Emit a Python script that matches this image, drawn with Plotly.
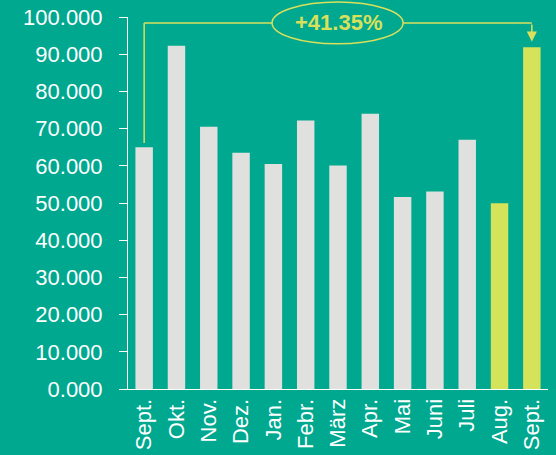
import plotly.graph_objects as go

months = ["Sept.", "Okt.", "Nov.", "Dez.", "Jan.", "Febr.", "März", "Apr.", "Mai", "Juni", "Juli", "Aug.", "Sept."]
values = [65000, 92300, 70500, 63500, 60500, 72200, 60100, 74000, 51600, 53100, 67000, 49900, 91880]
highlight = [False] * 11 + [True, True]
y_ticks = [0, 10000, 20000, 30000, 40000, 50000, 60000, 70000, 80000, 90000, 100000]
y_tick_labels = ["0.000", "10.000", "20.000", "30.000", "40.000", "50.000", "60.000",
                 "70.000", "80.000", "90.000", "100.000"]
change_label = "+41.35%"

BG = "#00A88F"
GRAY = "#E0E1DF"
YEL = "#D5E35A"
LINE_Y = "#D9E05C"
FONT = "Arial, Liberation Sans, sans-serif"

xs = list(range(len(months)))
colors = [YEL if h else GRAY for h in highlight]

fig = go.Figure()
fig.add_trace(go.Bar(x=xs, y=values, marker=dict(color=colors, line=dict(width=0)),
                     showlegend=False, hoverinfo="skip"))

top_y = 98400
first, last = 0, len(months) - 1
# left vertical connector
fig.add_shape(type="line", xref="x", yref="y", x0=first, x1=first,
              y0=values[first] + 1100, y1=top_y, line=dict(color=LINE_Y, width=1.5))
# horizontal connector
fig.add_shape(type="line", xref="x", yref="y", x0=first, x1=last,
              y0=top_y, y1=top_y, line=dict(color=LINE_Y, width=1.5))
# ellipse
fig.add_shape(type="circle", xref="paper", yref="paper", x0=0.343, x1=0.655,
              y0=0.928, y1=1.040, fillcolor=BG, line=dict(color=LINE_Y, width=1.5),
              layer="above")
fig.add_annotation(x=(first + last) / 2, y=0.984, xref="x", yref="paper",
                   xanchor="center", yanchor="middle",
                   text="<b>" + change_label + "</b>", showarrow=False,
                   font=dict(family=FONT, size=22, color=LINE_Y))
# right arrow
fig.add_annotation(x=last, y=values[last] + 1500, xref="x", yref="y",
                   ax=last, ay=top_y, axref="x", ayref="y", text="",
                   showarrow=True, arrowhead=2, arrowsize=1.35, arrowwidth=1.5,
                   arrowcolor=LINE_Y)

fig.update_layout(
    width=556, height=455,
    margin=dict(l=128, r=8, t=17, b=66, autoexpand=False),
    paper_bgcolor=BG, plot_bgcolor=BG,
    bargap=0.46,
    font=dict(family=FONT, size=22, color="white"),
)
fig.update_xaxes(range=[-0.5, len(months) - 0.5], tickvals=xs, ticktext=months,
                 tickangle=-90, showgrid=False, zeroline=False, automargin=False,
                 showline=True, linecolor="white", linewidth=1, ticks="",
                 tickfont=dict(family=FONT, size=22, color="white"))
fig.update_yaxes(range=[0, 100000], tickvals=y_ticks, ticktext=y_tick_labels,
                 showgrid=False, zeroline=False, showline=True, linecolor="white",
                 automargin=False, ticklabelstandoff=12,
                 linewidth=1, ticks="outside", ticklen=8, tickcolor="white", tickwidth=1,
                 tickfont=dict(family=FONT, size=22, color="white"))

fig.write_html("out.html", config={"displayModeBar": False},
               post_script="document.body.style.margin='0';")
